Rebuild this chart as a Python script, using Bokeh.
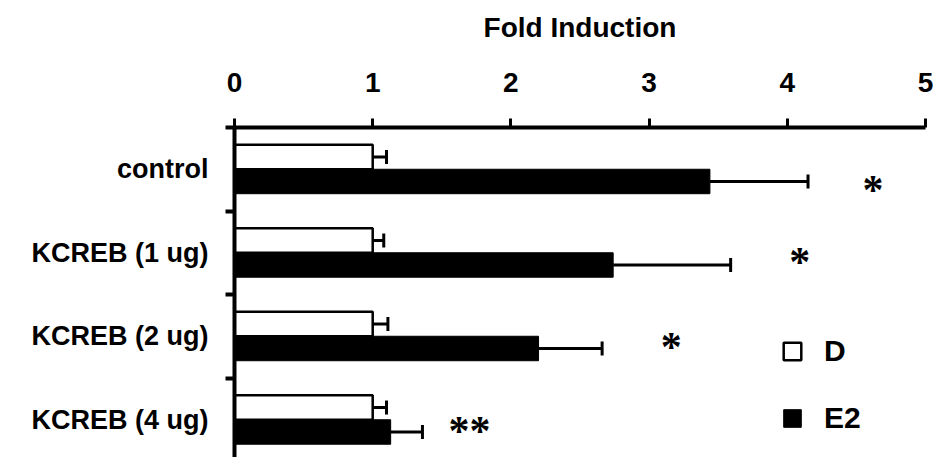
from bokeh.plotting import figure
from bokeh.models import Range1d, FixedTicker, Whisker, TeeHead, ColumnDataSource, Legend, LegendItem
from bokeh.core.properties import value
from bokeh.embed import file_html
from bokeh.resources import INLINE
import numpy as np

# ---- data ----
categories = ["control", "KCREB (1 ug)", "KCREB (2 ug)", "KCREB (4 ug)"]
d_values = [1.0, 1.0, 1.0, 1.0]
d_errors = [0.10, 0.08, 0.11, 0.10]
e2_values = [3.44, 2.74, 2.20, 1.13]
e2_errors = [0.71, 0.85, 0.46, 0.23]
x_ticks = [0, 1, 2, 3, 4, 5]
sig_labels = ["*", "*", "*", "**"]
sig_x = [4.62, 4.09, 3.16, 1.70]
sig_y = [0.67, 1.53, 2.55, 3.545]
series_names = ["D", "E2"]

FONT = "Liberation Sans"
BAR_H = 0.293

centers = np.arange(len(categories)) + 0.5
d_y = centers - BAR_H / 2
e_y = centers + BAR_H / 2

p = figure(width=936, height=457, output_backend="svg", toolbar_location=None,
           x_axis_location="above", y_axis_location="left",
           x_range=Range1d(0, 5), y_range=Range1d(3.952, 0),
           min_border_left=234, min_border_right=11, min_border_top=127, min_border_bottom=0)
p.outline_line_color = None
p.xgrid.visible = False
p.ygrid.visible = False
p.background_fill_color = "white"
p.border_fill_color = "white"

src_d = ColumnDataSource(dict(y=d_y, v=d_values, lo=d_values, hi=np.array(d_values) + np.array(d_errors)))
src_e = ColumnDataSource(dict(y=e_y, v=e2_values, lo=e2_values, hi=np.array(e2_values) + np.array(e2_errors)))

r_d = p.hbar(y="y", right="v", left=0, height=BAR_H, source=src_d,
             fill_color="white", line_color="black", line_width=2.5)
r_e = p.hbar(y="y", right="v", left=0, height=BAR_H, source=src_e,
             fill_color="black", line_color="black", line_width=1)

for src in (src_d, src_e):
    w = Whisker(source=src, base="y", lower="lo", upper="hi", dimension="width",
                line_color="black", line_width=3,
                lower_head=None,
                upper_head=TeeHead(size=14, line_width=3, line_color="black"))
    p.add_layout(w)

# significance markers
p.text(x=sig_x, y=sig_y, text=sig_labels, text_font=value("Liberation Serif"),
       text_font_style="bold",
       text_font_size="42px", text_align="center", text_baseline="alphabetic",
       y_offset=7, text_color="black")

# x axis (top)
xa = p.xaxis[0]
xa.ticker = FixedTicker(ticks=x_ticks)
xa.axis_line_width = 4
xa.axis_line_color = "black"
xa.major_tick_line_width = 3
xa.major_tick_line_color = "black"
xa.major_tick_out = 9
xa.major_tick_in = 0
xa.minor_tick_line_color = None
xa.major_label_text_font = FONT
xa.major_label_text_font_style = "bold"
xa.major_label_text_font_size = "28px"
xa.major_label_text_color = "black"
xa.major_label_standoff = 27
xa.axis_label = "Fold Induction"
xa.axis_label_text_font = FONT
xa.axis_label_text_font_style = "bold"
xa.axis_label_text_font_size = "28px"
xa.axis_label_text_color = "black"
xa.axis_label_standoff = 27

# y axis (left)
ya = p.yaxis[0]
ya.ticker = FixedTicker(ticks=list(centers), minor_ticks=list(range(len(categories) + 1)))
ya.major_label_overrides = {float(c): lab for c, lab in zip(centers, categories)}
ya.axis_line_width = 4
ya.axis_line_color = "black"
ya.major_tick_line_color = None
ya.major_tick_out = 0
ya.major_tick_in = 0
ya.minor_tick_line_width = 4
ya.minor_tick_line_color = "black"
ya.minor_tick_out = 9
ya.minor_tick_in = 0
ya.major_label_text_font = FONT
ya.major_label_text_font_style = "bold"
ya.major_label_text_font_size = "27px"
ya.major_label_text_color = "black"
ya.major_label_standoff = 17

legend = Legend(items=[LegendItem(label=series_names[0], renderers=[r_d]),
                       LegendItem(label=series_names[1], renderers=[r_e])],
                location=(547, 22), orientation="vertical")
legend.glyph_width = 22
legend.glyph_height = 22
legend.label_text_font = FONT
legend.label_text_font_style = "bold"
legend.label_text_font_size = "30px"
legend.label_text_color = "black"
legend.label_standoff = 21
legend.spacing = 33
legend.padding = 0
legend.margin = 0
legend.border_line_color = None
legend.background_fill_alpha = 0
p.add_layout(legend, "center")

open("out.html", "w").write(file_html(p, INLINE))
